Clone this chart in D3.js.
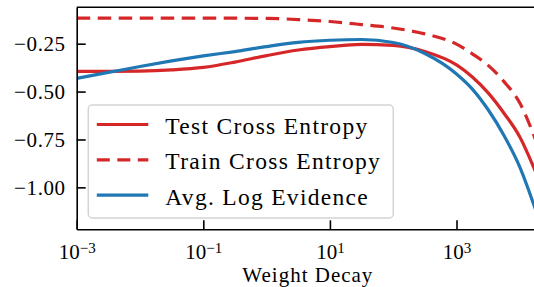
<!DOCTYPE html>
<html>
<head>
    <meta charset="utf-8" />
    <title></title>
    <style>
        body{
            margin:0;
            background:#fff;
        }
    </style>
</head>
<body>
    <div id="chart"></div>
    <script src="https://cdn.jsdelivr.net/npm/d3@7"></script>

    <script>
        //-------------------------- data --------------------------
        var weightDecay = [0.001, 0.00316, 0.01, 0.0316, 0.1, 0.316, 1, 3.16, 10, 31.6,
            100, 316, 1000, 1778, 3162, 5623, 10000, 17783];
        var testCE = [-0.394, -0.394, -0.393, -0.387, -0.374, -0.346, -0.312, -0.283, -0.265, -0.254,
            -0.259, -0.291, -0.361, -0.424, -0.507, -0.613, -0.737, -0.920];
        var trainCE = [-0.117, -0.117, -0.117, -0.117, -0.117, -0.117, -0.118, -0.124, -0.134, -0.150,
            -0.168, -0.199, -0.252, -0.303, -0.363, -0.448, -0.560, -0.753];
        var logEvidence = [-0.431, -0.400, -0.369, -0.340, -0.314, -0.291, -0.265, -0.243, -0.232, -0.228,
            -0.244, -0.301, -0.408, -0.487, -0.595, -0.729, -0.894, -1.118];
        var xTickValues = [1e-3, 1e-1, 1e1, 1e3];
        var xTickExp = ["−3", "−1", "1", "3"];
        var yTickValues = [-1.0, -0.75, -0.5, -0.25];
        //-------------------------- end --------------------------

        var options = {
            width: 534,
            height: 287,
            margins: { left: 76.7, right: -5, top: 7.3, bottom: 57.7 }
        };
        var margins = options.margins;
        var width = options.width - margins.left - margins.right;
        var height = options.height - margins.top - margins.bottom;
        var serif = "'Liberation Serif'";

        var series = [
            { name: "Test Cross Entropy", values: testCE, color: "#d62728", dash: null },
            { name: "Train Cross Entropy", values: trainCE, color: "#d62728", dash: "13.5,7.5" },
            { name: "Avg. Log Evidence", values: logEvidence, color: "#1f77b4", dash: null }
        ];

        var root = d3.select("#chart")
            .append("svg")
            .attr("width", options.width)
            .attr("height", options.height);
        var svg = root.append("g")
            .attr("transform", "translate(" + margins.left + "," + margins.top + ")");

        var x = d3.scaleLog().domain([1e-3, Math.pow(10, 4.303)]).range([0, width]);
        var y = d3.scaleLinear().domain([-1.219, -0.060]).range([height, 0]);

        svg.append("clipPath").attr("id", "plot-clip")
            .append("rect").attr("width", width).attr("height", height);

        // lines
        var line = d3.line()
            .x(function (d, i) { return x(weightDecay[i]); })
            .y(function (d) { return y(d); })
            .curve(d3.curveMonotoneX);

        svg.append("g")
            .attr("clip-path", "url(#plot-clip)")
            .selectAll("path")
            .data(series)
            .join("path")
            .attr("d", function (d) { return line(d.values); })
            .attr("fill", "none")
            .attr("stroke", function (d) { return d.color; })
            .attr("stroke-width", 3.2)
            .attr("stroke-dasharray", function (d) { return d.dash; });

        // axes, ticks point inwards
        var xAxis = d3.axisBottom(x)
            .tickValues(xTickValues)
            .tickSizeInner(-9)
            .tickSizeOuter(0)
            .tickPadding(9)
            .tickFormat(function () { return "10"; });
        var yAxis = d3.axisLeft(y)
            .tickValues(yTickValues)
            .tickSizeInner(-9)
            .tickSizeOuter(0)
            .tickPadding(11)
            .tickFormat(d3.format(".2f"));

        var gx = svg.append("g")
            .attr("class", "x axis")
            .attr("transform", "translate(0," + height + ")")
            .call(xAxis);
        var gy = svg.append("g")
            .attr("class", "y axis")
            .call(yAxis);

        gx.selectAll(".tick text")
            .style("font-family", serif)
            .style("font-size", "21px")
            .attr("fill", "#000")
            .attr("dy", "1em")
            .each(function (d, i) {
                d3.select(this).append("tspan")
                    .attr("dy", "-0.42em")
                    .style("font-size", "15px")
                    .text(xTickExp[i]);
            });
        gy.selectAll(".tick text")
            .style("font-family", serif)
            .style("font-size", "21px")
            .attr("fill", "#000")
            .attr("dy", "0.34em")
            .attr("letter-spacing", 0.6);

        root.selectAll(".axis .domain")
            .attr("stroke", "#000")
            .attr("stroke-width", 1.6);
        root.selectAll(".axis .tick line")
            .attr("stroke", "#000")
            .attr("stroke-width", 1.6);

        // top spine
        svg.append("line")
            .attr("x1", 0).attr("x2", width)
            .attr("y1", 0).attr("y2", 0)
            .attr("stroke", "#000")
            .attr("stroke-width", 1.6);

        // x label
        svg.append("text")
            .attr("x", width / 2)
            .attr("y", height + 52.5)
            .attr("text-anchor", "middle")
            .style("font-family", serif)
            .style("font-size", "21px")
            .attr("letter-spacing", 1)
            .text("Weight Decay");

        // legend
        var legend = svg.append("g")
            .attr("transform", "translate(" + (88.3 - margins.left) + "," + (105 - margins.top) + ")");
        legend.append("rect")
            .attr("width", 305)
            .attr("height", 113)
            .attr("rx", 4)
            .attr("fill", "#fff")
            .attr("fill-opacity", 0.8)
            .attr("stroke", "#d4d4d4")
            .attr("stroke-width", 1.5);
        var rows = legend.selectAll(".legend-row")
            .data(series)
            .join("g")
            .attr("class", "legend-row")
            .attr("transform", function (d, i) { return "translate(0," + (19.5 + i * 35.3) + ")"; });
        rows.append("line")
            .attr("x1", 8.5).attr("x2", 60)
            .attr("stroke", function (d) { return d.color; })
            .attr("stroke-width", 3.2)
            .attr("stroke-dasharray", function (d) { return d.dash ? "13,7.5" : null; });
        rows.append("text")
            .attr("x", 77)
            .attr("y", 9.5)
            .style("font-family", serif)
            .style("font-size", "23.5px")
            .attr("letter-spacing", 1.3)
            .text(function (d) { return d.name; });
    </script>
</body>
</html>
